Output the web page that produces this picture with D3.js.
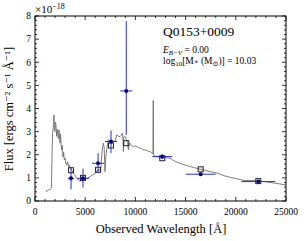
<!DOCTYPE html>
<html>
<head>
  <script src="https://d3js.org/d3.v7.min.js"></script>
  <style>
    body { margin: 0; background: #fff; }
    text { font-family: "Liberation Serif", "DejaVu Serif", serif; fill: #000; }
  </style>
</head>
<body>
  <svg width="307" height="241" id="mainsvg"></svg>
  <script>
    // model spectrum (Angstrom, 1e-18 flux units)
    const specWave = [1100, 1300, 1500, 1600, 1640, 1680, 1750, 1820, 1890, 1940, 1990, 2040, 2090, 2150, 2200, 2260,
      2320, 2390, 2430, 2490, 2540, 2600, 2660, 2720, 2790, 2850, 2920, 3000, 3080, 3160, 3250, 3330, 3420, 3490,
      3600, 3700, 3820, 3950, 4050, 4150, 4250, 4350, 4480, 4560, 4650, 4750, 4850, 4980, 5200, 5480, 5700, 5980,
      6150, 6310, 6420, 6500, 6580, 6640, 6720, 6810, 6890, 6970, 7050, 7140, 7300, 7450, 7570, 7700, 7850, 7970,
      8140, 8300, 8470, 8600, 8700, 8760, 8800, 8850, 8950, 9130, 9220, 9300, 9380, 9460, 9600, 9790, 10000, 10290,
      10550, 10790, 10960, 11200, 11450, 11650, 11750, 11770, 11790, 11810, 11950, 12300, 12620, 13000, 13450,
      13900, 14440, 14900, 15440, 15900, 16430, 16900, 17430, 17930, 18430, 18920, 19420, 19920, 20420, 20920,
      21400, 21910, 22400, 22910, 23400, 23900, 24500, 25000];
    const specFlux = [0.40, 0.47, 0.51, 0.55, 0.58, 1.60, 2.95, 3.20, 3.73, 3.05, 3.00, 3.40, 3.30, 2.80, 3.10, 2.94,
      2.70, 3.08, 2.85, 2.51, 2.90, 2.45, 2.21, 2.40, 1.90, 2.10, 1.78, 1.85, 1.60, 1.56, 1.70, 1.48, 1.55, 1.42,
      1.38, 1.32, 1.20, 1.15, 1.05, 0.98, 0.95, 0.90, 0.84, 0.95, 0.91, 0.86, 0.92, 0.94, 0.98, 1.05, 1.12, 1.18,
      1.30, 1.34, 1.36, 1.30, 1.50, 1.92, 2.30, 2.50, 2.30, 1.27, 1.90, 2.21, 2.65, 2.55, 2.50, 2.55, 2.60, 2.57,
      2.86, 2.80, 2.79, 2.85, 2.94, 2.70, 2.14, 2.75, 2.80, 2.65, 2.50, 2.21, 2.45, 2.50, 2.40, 2.35, 2.38, 2.31,
      2.28, 2.21, 2.21, 2.17, 2.14, 2.08, 2.05, 4.35, 4.35, 2.00, 1.95, 1.90, 1.85, 1.88, 1.85,
      1.72, 1.63, 1.56, 1.49, 1.44, 1.37, 1.33, 1.27, 1.23, 1.16, 1.08, 1.03, 0.98, 0.93, 0.88,
      0.89, 0.88, 0.86, 0.84, 0.80, 0.77, 0.73, 0.69];

    // photometry
    const photWave = [3590, 4780, 6280, 7570, 9090, 12680, 16500, 22240];
    const photFlux = [0.98, 0.98, 1.63, 2.57, 4.76, 1.92, 1.16, 0.84];
    const photErrLo = [0.48, 0.40, 0.43, 0.50, 1.90, 0.10, 0.05, 0.05];
    const photErrHi = [0.50, 0.42, 0.44, 0.48, 3.02, 0.10, 0.05, 0.05];
    const photXerr = [300, 600, 600, 600, 600, 1000, 1500, 1700];

    // model photometry
    const modelFlux = [1.33, 1.00, 1.35, 2.40, 2.50, 1.85, 1.37, 0.86];

    const xTicks = [0, 5000, 10000, 15000, 20000, 25000];
    const yTicks = [0, 1, 2, 3, 4, 5, 6, 7, 8];

    const svg = d3.select('#mainsvg');
    const margin = { top: 16, right: 21, bottom: 40, left: 35 };
    const innerWidth = 307 - margin.left - margin.right;
    const innerHeight = 241 - margin.top - margin.bottom;

    const g = svg.append('g').attr('transform', `translate(${margin.left},${margin.top})`);

    const xScale = d3.scaleLinear().domain([0, 25000]).range([0, innerWidth]);
    const yScale = d3.scaleLinear().domain([0, 8]).range([innerHeight, 0]);

    // ticks pointing inward on all four sides
    const xMinor = d3.range(0, 25001, 1000);
    const yMinor = d3.range(0, 8.001, 0.2);
    const tickG = g.append('g').attr('stroke', '#000').attr('stroke-width', 0.8);
    xMinor.forEach(v => {
      const major = v % 5000 === 0;
      const len = major ? 4 : 2;
      tickG.append('line').attr('x1', xScale(v)).attr('x2', xScale(v))
        .attr('y1', innerHeight).attr('y2', innerHeight - len);
      tickG.append('line').attr('x1', xScale(v)).attr('x2', xScale(v))
        .attr('y1', 0).attr('y2', len);
    });
    yMinor.forEach(v => {
      const major = Math.abs(v - Math.round(v)) < 1e-6;
      const len = major ? 4 : 2;
      tickG.append('line').attr('y1', yScale(v)).attr('y2', yScale(v))
        .attr('x1', 0).attr('x2', len);
      tickG.append('line').attr('y1', yScale(v)).attr('y2', yScale(v))
        .attr('x1', innerWidth).attr('x2', innerWidth - len);
    });

    // tick labels placed in svg coordinates
    svg.selectAll('.xtl').data(xTicks).join('text')
      .attr('x', d => margin.left + xScale(d)).attr('y', margin.top + innerHeight + 14)
      .attr('text-anchor', 'middle').attr('font-size', 9.5)
      .text(d => d);
    svg.selectAll('.ytl').data(yTicks).join('text')
      .attr('x', margin.left - 4).attr('y', d => margin.top + yScale(d) + 3.3)
      .attr('text-anchor', 'end').attr('font-size', 9.5)
      .text(d => d);

    // spectrum
    const line = d3.line().x((d, i) => xScale(specWave[i])).y(d => yScale(d));
    g.append('path').datum(specFlux)
      .attr('d', line).attr('fill', 'none')
      .attr('stroke', '#6e6e6e').attr('stroke-width', 0.9);

    // model photometry squares
    g.selectAll('.model').data(photWave).join('rect')
      .attr('x', (d, i) => xScale(d) - 2.5).attr('y', (d, i) => yScale(modelFlux[i]) - 2.5)
      .attr('width', 5).attr('height', 5)
      .attr('fill', 'none').attr('stroke', '#222').attr('stroke-width', 1);

    // photometry with error bars
    const eb = g.append('g').attr('stroke', '#2b2bd0').attr('stroke-width', 1);
    photWave.forEach((w, i) => {
      eb.append('line').attr('x1', xScale(w)).attr('x2', xScale(w))
        .attr('y1', yScale(photFlux[i] - photErrLo[i])).attr('y2', yScale(photFlux[i] + photErrHi[i]));
      eb.append('line').attr('x1', xScale(w - photXerr[i])).attr('x2', xScale(w + photXerr[i]))
        .attr('y1', yScale(photFlux[i])).attr('y2', yScale(photFlux[i]));
    });
    g.selectAll('.pt').data(photWave).join('circle')
      .attr('cx', d => xScale(d)).attr('cy', (d, i) => yScale(photFlux[i]))
      .attr('r', 2).attr('fill', '#000080');

    // frame
    g.append('rect').attr('width', innerWidth).attr('height', innerHeight)
      .attr('fill', 'none').attr('stroke', '#000').attr('stroke-width', 1);

    // offset label
    const off = svg.append('text').attr('x', 35).attr('y', 12.5).attr('font-size', 11);
    off.append('tspan').text('×10');
    off.append('tspan').attr('dy', -4).attr('font-size', 8).text('−18');

    // axis labels
    svg.append('text').attr('x', 161).attr('y', 233)
      .attr('text-anchor', 'middle').attr('font-size', 12.5)
      .text('Observed Wavelength [Å]');

    svg.append('text').attr('x', 13).attr('y', 109)
      .attr('transform', 'rotate(-90,13,109)')
      .attr('text-anchor', 'middle').attr('font-size', 12.5)
      .text('Flux [ergs cm⁻² s⁻¹ Å⁻¹]');

    // annotation
    svg.append('text').attr('x', 163).attr('y', 36).attr('font-size', 13.5).text('Q0153+0009');
    const e = svg.append('text').attr('x', 163).attr('y', 53).attr('font-size', 9.5);
    e.append('tspan').attr('font-style', 'italic').text('E');
    e.append('tspan').attr('dy', 2).attr('font-size', 7).attr('font-style', 'italic').text('B−V');
    e.append('tspan').attr('dy', -2).text(' = 0.00');
    const m = svg.append('text').attr('x', 163).attr('y', 63.5).attr('font-size', 9.5);
    m.append('tspan').text('log');
    m.append('tspan').attr('dy', 2).attr('font-size', 7).text('10');
    m.append('tspan').attr('dy', -2).text('[M');
    m.append('tspan').attr('font-size', 7).text('∗');
    m.append('tspan').text(' (M');
    m.append('tspan').attr('dy', 2).attr('font-size', 7).text('⊙');
    m.append('tspan').attr('dy', -2).text(')] = 10.03');
  </script>
</body>
</html>
